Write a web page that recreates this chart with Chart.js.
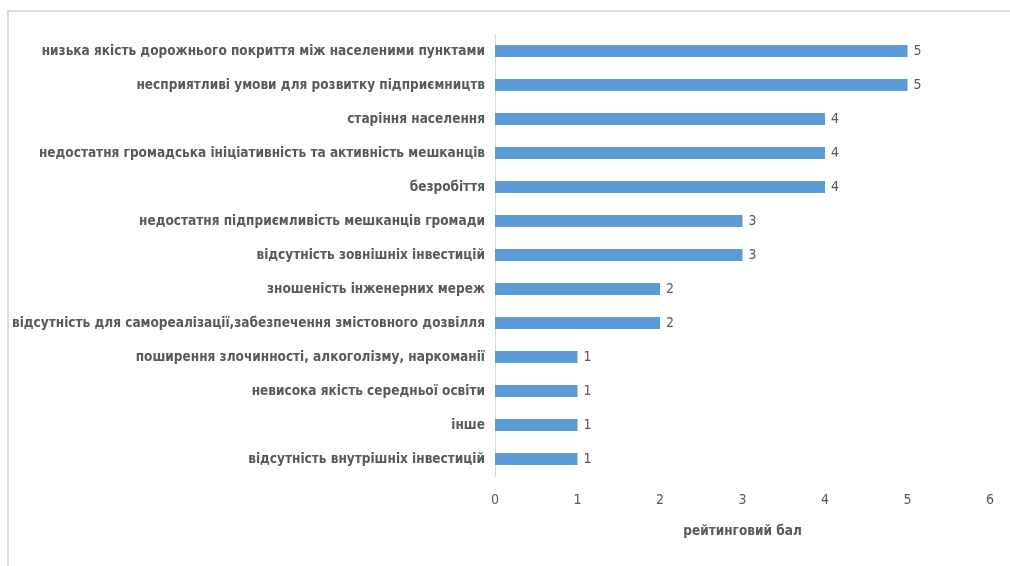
<!DOCTYPE html>
<html>
<head>
<meta charset="utf-8">
<script src="https://cdn.jsdelivr.net/npm/chart.js@4/dist/chart.umd.min.js"></script>
<style>
  html, body { margin: 0; padding: 0; background: #ffffff; }
  #wrap { position: relative; width: 1010px; height: 566px; overflow: hidden; }
  #frame { position: absolute; left: 7px; top: 10px; width: 1100px; height: 700px;
           border-top: 2px solid #dcdcdc; border-left: 2px solid #dcdcdc; box-sizing: border-box; }
  canvas { position: absolute; left: 0; top: 0; }
</style>
</head>
<body>
<div id="wrap">
  <div id="frame"></div>
  <canvas id="c" width="1010" height="566"></canvas>
</div>
<script>
const categories = [
  "низька якість дорожнього покриття між населеними пунктами",
  "несприятливі умови для розвитку підприємництв",
  "старіння населення",
  "недостатня громадська ініціативність та активність мешканців",
  "безробіття",
  "недостатня підприємливість мешканців громади",
  "відсутність зовнішніх інвестицій",
  "зношеність інженерних мереж",
  "відсутність для самореалізації,забезпечення змістовного дозвілля",
  "поширення злочинності, алкоголізму, наркоманії",
  "невисока якість середньої освіти",
  "інше",
  "відсутність внутрішніх інвестицій"
];
const scores = [5, 5, 4, 4, 4, 3, 3, 2, 2, 1, 1, 1, 1];
const axisTitle = "рейтинговий бал";

const narrow = "'DejaVu Sans Condensed', 'Liberation Sans Narrow', sans-serif";

const valueLabels = {
  id: 'valueLabels',
  afterDatasetsDraw(chart) {
    const ctx = chart.ctx;
    const meta = chart.getDatasetMeta(0);
    ctx.save();
    ctx.font = "14px " + narrow;
    ctx.fillStyle = "#595959";
    ctx.textAlign = "left";
    ctx.textBaseline = "middle";
    meta.data.forEach((el, i) => {
      ctx.fillText(String(chart.data.datasets[0].data[i]), el.x + 6, el.y);
    });
    ctx.restore();
  }
};

new Chart(document.getElementById('c'), {
  type: 'bar',
  data: {
    labels: categories,
    datasets: [{
      data: scores,
      backgroundColor: '#5b9bd5',
      borderWidth: 0,
      barPercentage: 0.36,
      categoryPercentage: 1.0
    }]
  },
  options: {
    indexAxis: 'y',
    responsive: false,
    animation: false,
    devicePixelRatio: 1,
    layout: { padding: { left: 0, top: 34, right: 19, bottom: 0 } },
    plugins: { legend: { display: false }, tooltip: { enabled: false } },
    scales: {
      x: {
        min: 0, max: 6,
        ticks: { stepSize: 1, color: '#595959', padding: 16,
                 font: { family: narrow, size: 14 } },
        grid: { display: false, drawTicks: false },
        border: { display: false },
        title: { display: true, text: axisTitle, color: '#595959',
                 font: { family: narrow, size: 13.5, weight: 'bold' },
                 padding: { top: 0, bottom: 26 } },
        afterFit(scale) { scale.height = 90; }
      },
      y: {
        ticks: { color: '#595959', padding: 10, autoSkip: false,
                 font: { family: narrow, size: 13.5, weight: 'bold' } },
        grid: { display: false, drawTicks: false },
        border: { display: true, color: '#d9d9d9', width: 1 },
        afterFit(scale) { scale.width = 495; }
      }
    }
  },
  plugins: [valueLabels]
});
</script>
</body>
</html>
